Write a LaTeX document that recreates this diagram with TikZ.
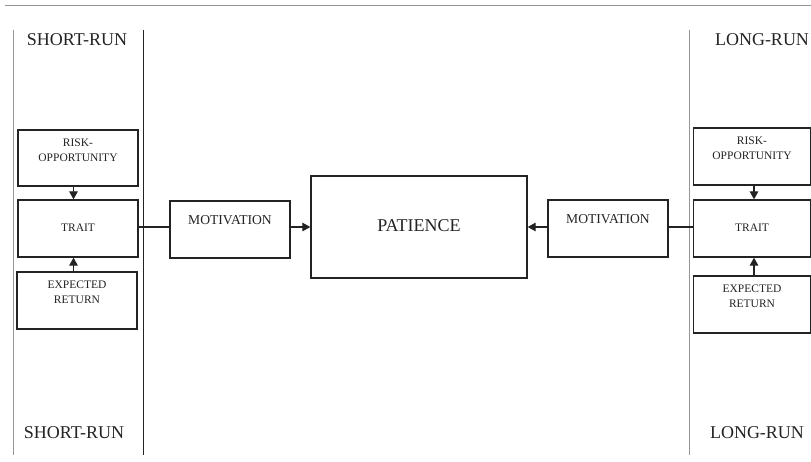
\documentclass[tikz,border=0pt]{standalone}
\usepackage{fontspec}
\setmainfont{Liberation Serif}
\definecolor{rulegray}{RGB}{150,150,150}
\definecolor{boxline}{RGB}{35,35,35}
\usetikzlibrary{arrows.meta,calc}

\begin{document}
\begin{tikzpicture}[x=1pt, y=-1pt,
    box/.style={rectangle, draw=boxline, line width=1.3pt, inner sep=0pt},
    small/.style={font=\fontsize{11.5}{15}\selectfont, align=center, text=boxline},
    runlabel/.style={font=\fontsize{18}{20}\selectfont, text=boxline},
    link/.style={draw=boxline, line width=1.2pt},
    arrow/.style={link, -{Triangle[length=8pt, width=8.5pt]}}]
    \useasboundingbox (0,0) rectangle (811,461);

    % Rules
    \draw[rulegray, line width=0.8pt] (5,5) -- (811,5);
    \draw[rulegray, line width=1pt] (13,30) -- (13,455);
    \draw[boxline, line width=0.8pt] (143,30) -- (143,455);
    \draw[rulegray, line width=1pt] (689,30) -- (689,455);

    % Run labels
    \node[runlabel] (srtop) at (77,40) {SHORT-RUN};
    \node[runlabel] (srbot) at (74,433) {SHORT-RUN};
    \node[runlabel] (lrtop) at (762,40) {LONG-RUN};
    \node[runlabel] (lrbot) at (757,433) {LONG-RUN};

    % Short-run blocks
    \node[box, minimum width=120, minimum height=56] (riskL) at (78,158) {};
    \node[box, minimum width=120, minimum height=57] (traitL) at (78,228.5) {};
    \node[box, minimum width=120, minimum height=57] (expL) at (77,300.5) {};

    % Long-run blocks
    \node[box, minimum width=117, minimum height=57] (riskR) at (752,156.5) {};
    \node[box, minimum width=117, minimum height=57] (traitR) at (752,228.5) {};
    \node[box, minimum width=117, minimum height=57] (expR) at (752,304.5) {};

    % Middle blocks
    \node[box, minimum width=120, minimum height=57] (motL) at (230,229.5) {};
    \node[box, minimum width=216, minimum height=102] (pat) at (419,227) {};
    \node[box, minimum width=120, minimum height=57] (motR) at (608,228.5) {};

    % Block contents
    \node[small] (riskLtxt) at (78,150) {RISK-\\OPPORTUNITY};
    \node[small] (traitLtxt) at (78,228) {TRAIT};
    \node[small] (expLtxt) at (77,292) {EXPECTED\\RETURN};
    \node[small] (riskRtxt) at (752,148) {RISK-\\OPPORTUNITY};
    \node[small] (traitRtxt) at (752,228) {TRAIT};
    \node[small] (expRtxt) at (752,296) {EXPECTED\\RETURN};
    \node[small, font=\fontsize{13.6}{16}\selectfont] (motLtxt) at (230,220) {MOTIVATION};
    \node[small, font=\fontsize{13.6}{16}\selectfont] (motRtxt) at (608,219) {MOTIVATION};
    \node[runlabel] (pattxt) at (419,226) {PATIENCE};

    % Connectors
    \draw[arrow] ($(riskL.south)+(-4.5,0)$) -- ($(traitL.north)+(-4.5,0)$);
    \draw[arrow] ($(expL.north)+(-3.5,0)$) -- ($(traitL.south)+(-4.5,0)$);
    \draw[arrow] ($(riskR.south)+(2,0)$) -- ($(traitR.north)+(2,0)$);
    \draw[arrow] ($(expR.north)+(2,0)$) -- ($(traitR.south)+(2,0)$);
    \draw[link] (traitL.east |- pat.west) -- (motL.west |- pat.west);
    \draw[arrow] (motL.east |- pat.west) -- (pat.west);
    \draw[link] (traitR.west |- pat.east) -- (motR.east |- pat.east);
    \draw[arrow] (motR.west |- pat.east) -- (pat.east);
\end{tikzpicture}
\end{document}
